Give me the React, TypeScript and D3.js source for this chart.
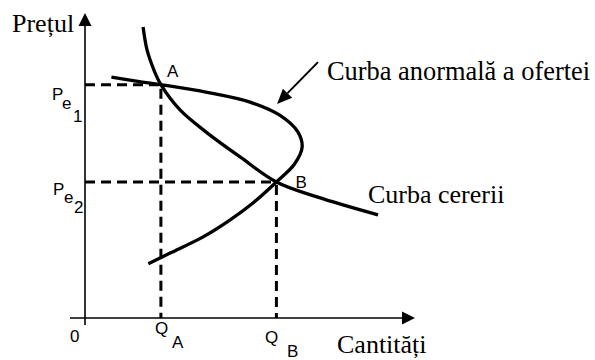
import React from "react";
import * as d3 from "d3";

const W = 595;
const H = 360;

// data space: quantity 0..100, price 0..100
const supplyCurve: [number, number][] = [
  [8, 79], [16, 77.6], [23, 76.5], [37, 74], [50, 70.8], [59, 66.5],
  [64.5, 61], [65.8, 56], [63.5, 50.5], [58, 44.6], [50.9, 37.7], [43.9, 32.1],
  [35.8, 26.6], [25.8, 21.3], [19.2, 17.8],
];
const demandCurve: [number, number][] = [
  [17.6, 95.4], [18.8, 87.9], [20.9, 81.3], [23, 76.5], [28.8, 68.2],
  [37, 60.7], [47, 52.8], [58, 44.6], [70.3, 39.7], [88.8, 33.8],
];
const pointA: [number, number] = [23, 76.5];
const pointB: [number, number] = [58, 44.6];
const annotationArrow: [number, number][] = [[70.6, 83.9], [58.2, 70.2]];

const labelPrice = "Prețul";
const labelQty = "Cantități";
const labelSupply = "Curba anormală a ofertei";
const labelDemand = "Curba cererii";

export default function App() {
  const x = d3.scaleLinear().domain([0, 100]).range([85, 415]);
  const y = d3.scaleLinear().domain([0, 100]).range([318, 13]);
  const line = d3
    .line<[number, number]>()
    .x((d) => x(d[0]))
    .y((d) => y(d[1]))
    .curve(d3.curveCatmullRom.alpha(0.5));

  const serif = "'Liberation Serif', 'Times New Roman', serif";
  const sans = "'Liberation Sans', Arial, sans-serif";

  const ax = x(0);
  const ay = y(0);
  const xEnd = x(100);
  const yEnd = y(100);

  // annotation arrow geometry
  const [s0, s1] = annotationArrow;
  const ux = x(s1[0]) - x(s0[0]);
  const uy = y(s1[1]) - y(s0[1]);
  const len = Math.hypot(ux, uy);
  const nx = ux / len;
  const ny = uy / len;
  const tipX = x(s1[0]);
  const tipY = y(s1[1]);
  const hl = 15;
  const hw = 6.5;
  const bx = tipX - nx * hl;
  const by = tipY - ny * hl;

  const dash = "10,6";

  return (
    <svg
      width={W}
      height={H}
      style={{ position: "absolute", left: 0, top: 0, background: "#fff" }}
    >
      <rect width={W} height={H} fill="#fff" />
      {/* axes */}
      <line x1={ax} y1={ay + 7} x2={ax} y2={yEnd + 12} stroke="#000" strokeWidth={1.6} />
      <line x1={ax - 15} y1={ay} x2={xEnd - 12} y2={ay} stroke="#000" strokeWidth={1.6} />
      <path d={`M${ax},${yEnd} L${ax - 6.5},${yEnd + 13} L${ax + 6.5},${yEnd + 13} Z`} fill="#000" />
      <path d={`M${xEnd},${ay} L${xEnd - 13},${ay - 6.5} L${xEnd - 13},${ay + 6.5} Z`} fill="#000" />

      {/* dashed guides */}
      <line x1={ax} y1={y(pointA[1])} x2={x(pointA[0])} y2={y(pointA[1])} stroke="#000" strokeWidth={3} strokeDasharray={dash} />
      <line x1={x(pointA[0])} y1={y(pointA[1])} x2={x(pointA[0])} y2={ay} stroke="#000" strokeWidth={3} strokeDasharray={dash} strokeDashoffset={-4} />
      <line x1={ax} y1={y(pointB[1])} x2={x(pointB[0])} y2={y(pointB[1])} stroke="#000" strokeWidth={3} strokeDasharray={dash} />
      <line x1={x(pointB[0])} y1={y(pointB[1])} x2={x(pointB[0])} y2={ay} stroke="#000" strokeWidth={3} strokeDasharray={dash} strokeDashoffset={-3} />

      {/* curves */}
      <path d={line(supplyCurve) || ""} fill="none" stroke="#000" strokeWidth={3.3} strokeLinecap="butt" />
      <path d={line(demandCurve) || ""} fill="none" stroke="#000" strokeWidth={3.3} strokeLinecap="butt" />

      {/* annotation arrow */}
      <line x1={x(s0[0])} y1={y(s0[1])} x2={bx} y2={by} stroke="#000" strokeWidth={2} />
      <path
        d={`M${tipX},${tipY} L${bx - ny * hw},${by + nx * hw} L${bx + ny * hw},${by - nx * hw} Z`}
        fill="#000"
      />

      {/* serif labels */}
      <text x={12} y={32} fontFamily={serif} fontSize={26}>{labelPrice}</text>
      <text x={327} y={80} fontFamily={serif} fontSize={26.4}>{labelSupply}</text>
      <text x={368} y={203} fontFamily={serif} fontSize={26}>{labelDemand}</text>
      <text x={337} y={353} fontFamily={serif} fontSize={26}>{labelQty}</text>

      {/* sans labels */}
      <g fontFamily={sans} fontSize={17}>
        <text x={x(pointA[0]) + 6} y={y(pointA[1]) - 8}>A</text>
        <text x={x(pointB[0]) + 19} y={y(pointB[1]) + 6}>B</text>
        <text x={70} y={342}>0</text>
        <text>
          <tspan x={52} y={100}>P</tspan>
          <tspan x={62} y={109}>e</tspan>
          <tspan x={73} y={122}>1</tspan>
        </text>
        <text>
          <tspan x={53} y={195}>P</tspan>
          <tspan x={64} y={203}>e</tspan>
          <tspan x={74} y={213}>2</tspan>
        </text>
        <text>
          <tspan x={155} y={334}>Q</tspan>
          <tspan x={172} y={348}>A</tspan>
        </text>
        <text>
          <tspan x={265} y={343}>Q</tspan>
          <tspan x={287} y={357}>B</tspan>
        </text>
      </g>
    </svg>
  );
}
